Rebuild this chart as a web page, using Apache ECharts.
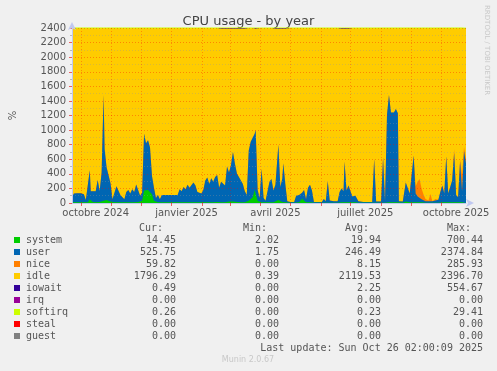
<!DOCTYPE html>
<html>
<head>
<meta charset="utf-8">
<script src="https://cdn.jsdelivr.net/npm/echarts@6/dist/echarts.min.js"></script>
<style>
html,body{margin:0;padding:0;background:#f0f0f0;}
#chart{width:497px;height:371px;}
</style>
</head>
<body>
<div id="chart"></div>
<script>
// Day index 0 = 22 Sep 2024, day 399 = 26 Oct 2025
const days = [0,2,5,9,12,14,16,18,19,21,
 24,26,28,30,32,33,35,37,39,41,
 43,45,47,49,51,53,55,57,59,61,
 63,65,67,69,71,73,75,77,79,81,
 83,85,87,89,91,93,100,107,109,111,
 113,115,117,119,121,123,125,127,129,131,
 133,135,137,139,141,143,145,147,149,151,
 153,155,157,159,161,163,165,167,169,171,
 173,175,177,179,181,183,185,186,188,190,
 192,194,196,198,200,202,204,206,209,211,
 213,214,216,218,221,225,227,230,233,235,
 237,239,241,243,245,249,253,255,257,259,
 261,265,269,271,273,275,276,278,280,282,
 284,287,290,295,301,304,306,308,313,315,
 317,319,321,323,326,328,330,331,335,338,
 340,342,344,346,348,350,352,354,356,358,
 361,363,365,368,371,373,375,377,379,381,
 383,385,387,389,391,393,395,397,399];

const system = [10,10,10,10,10,10,10,50,40,15,
 10,15,15,20,30,40,40,20,20,10,
 10,10,10,10,10,10,10,10,10,10,
 10,15,15,10,30,170,180,180,160,120,
 30,10,10,10,10,10,10,10,10,10,
 10,10,10,10,10,10,10,10,10,10,
 10,10,10,10,10,10,15,15,10,10,
 10,10,20,20,20,20,20,15,15,10,
 10,10,10,30,40,80,180,190,30,10,
 10,10,10,10,10,10,10,10,40,20,
 15,15,10,5,5,5,10,10,60,60,
 10,10,10,10,5,5,5,5,5,10,
 5,5,5,10,10,10,10,10,10,10,
 10,10,5,5,5,5,5,5,5,5,
 5,10,10,10,10,10,10,5,5,20,
 20,10,10,10,10,10,10,10,5,5,
 5,5,5,5,5,10,10,10,10,10,
 10,10,10,10,10,10,10,10,14.45];

const user = [70,120,125,125,110,30,40,400,120,160,
 150,300,150,400,1450,700,450,480,250,40,
 30,220,200,100,120,40,140,170,120,180,
 140,240,250,90,110,780,640,680,600,250,
 180,60,100,40,100,100,100,100,180,150,
 210,180,240,200,220,270,230,140,160,120,
 170,300,340,250,330,280,340,370,200,280,
 260,230,480,400,500,680,520,390,340,330,
 250,150,100,690,800,760,770,810,150,60,
 460,60,20,40,280,320,160,240,760,200,
 320,530,250,20,10,10,90,100,80,120,
 40,200,240,160,10,10,10,50,20,290,
 30,20,20,140,190,150,560,160,230,150,
 80,90,20,10,10,10,600,15,15,620,
 15,1200,1470,1230,1230,1280,1220,20,15,260,
 280,120,140,640,120,80,60,40,30,20,
 20,20,20,30,40,140,230,120,630,120,
 140,300,680,100,70,560,150,700,525.75];

const nice = [0,0,0,0,0,0,0,0,0,0,
 0,0,0,0,0,0,0,0,0,0,
 0,0,0,0,0,0,0,0,0,0,
 0,0,0,0,0,0,0,0,0,0,
 0,0,0,0,0,0,0,0,0,0,
 0,0,0,0,0,0,0,0,0,0,
 0,0,0,0,0,0,0,0,0,0,
 0,0,0,0,0,0,0,0,0,0,
 0,0,0,0,0,0,0,0,0,0,
 0,0,0,0,0,0,0,0,0,0,
 0,0,0,0,0,0,0,0,0,0,
 0,0,0,0,0,0,0,0,0,0,
 0,0,0,0,0,0,0,0,0,0,
 0,0,0,0,0,0,0,0,0,0,
 0,0,0,0,0,0,0,0,0,0,
 0,0,0,0,100,200,260,150,80,30,
 10,100,0,20,0,0,0,0,0,0,
 0,0,50,0,0,30,220,60,59.82];

const idle = [2320,2270,2265,2265,2280,2360,2350,1950,2240,2225,
 2240,2085,2235,1980,920,1660,1910,1900,2130,2350,
 2360,2170,2190,2290,2270,2350,2250,2220,2270,2210,
 2250,2145,2135,2300,2260,1450,1580,1540,1640,2030,
 2190,2330,2290,2350,2290,2290,2290,2290,2210,2240,
 2180,2210,2150,2190,2170,2120,2160,2250,2230,2270,
 2220,2090,2050,2140,2060,2110,2045,2015,2190,2095,
 2115,2145,1885,1965,1865,1685,1845,1980,2030,2045,
 2125,2225,2290,1680,1560,1560,1450,1385,2205,2330,
 1930,2330,2370,2350,2110,2070,2230,2135,1585,2165,
 2050,1840,2125,2375,2385,2385,2300,2290,2260,2220,
 2350,2190,2150,2230,2385,2385,2385,2345,2375,2100,
 2365,2375,2375,2235,2185,2225,1815,2215,2145,2240,
 2310,2300,2375,2385,2385,2385,1795,2380,2380,1775,
 2380,1190,920,1160,1160,1110,1170,2375,2380,2120,
 2100,2270,2250,1750,2170,2110,2070,2200,2285,2345,
 2365,2275,2375,2345,2355,2250,2160,2270,1760,2270,
 2250,2090,1660,2290,2320,1800,2020,1630,1796.29];

const iowait = [0,0,0,0,0,0,0,0,0,0,
 0,0,0,0,0,0,0,0,0,0,
 0,0,0,0,0,0,0,0,0,0,
 0,0,0,0,0,0,0,0,0,0,
 0,0,0,0,0,0,0,0,0,0,
 0,0,0,0,0,0,0,0,0,0,
 0,0,0,0,0,0,0,0,0,15,
 15,15,15,15,15,15,15,15,15,15,
 15,15,0,0,0,0,0,15,15,0,
 0,0,0,0,0,0,0,15,15,15,
 15,15,15,0,0,0,0,0,0,0,
 0,0,0,0,0,0,0,0,0,0,
 0,0,0,15,15,15,15,15,15,0,
 0,0,0,0,0,0,0,0,0,0,
 0,0,0,0,0,0,0,0,0,0,
 0,0,0,0,0,0,0,0,0,0,
 0,0,0,0,0,0,0,0,0,0,
 0,0,0,0,0,0,0,0,0.49];

const softirq = [0.3,0.3,0.3,0.3,0.3,0.3,0.3,0.3,0.3,0.3,
 0.3,0.3,0.3,0.3,0.3,0.3,0.3,0.3,0.3,0.3,
 0.3,0.3,0.3,0.3,0.3,0.3,0.3,0.3,0.3,0.3,
 0.3,0.3,0.3,0.3,0.3,0.3,0.3,0.3,0.3,0.3,
 0.3,0.3,0.3,0.3,0.3,0.3,0.3,0.3,0.3,0.3,
 0.2,0.2,0.2,0.2,0.2,0.2,0.2,0.2,0.2,0.2,
 0.2,0.2,0.2,0.2,0.2,0.2,0.2,0.2,0.2,0.2,
 0.2,0.2,0.2,0.2,0.2,0.2,0.2,0.2,0.2,0.2,
 0.2,0.2,0.2,0.2,0.2,0.2,0.2,0.2,0.2,0.2,
 0.2,0.2,0.2,0.2,0.2,0.2,0.2,0.2,0.2,0.2,
 0.2,0.2,0.2,0.2,0.2,0.2,0.2,0.2,0.2,0.2,
 0.2,0.2,0.2,0.2,0.2,0.2,0.2,0.2,0.2,0.2,
 0.2,0.2,0.2,0.2,0.2,0.2,0.2,0.2,0.2,0.2,
 0.2,0.2,0.2,0.2,0.2,0.2,0.2,0.2,0.2,0.2,
 0.3,0.3,0.3,0.3,0.3,0.3,0.3,0.3,0.3,0.3,
 0.3,0.3,0.3,0.3,0.3,0.3,0.3,0.3,0.3,0.3,
 0.3,0.3,0.3,0.3,0.3,0.3,0.3,0.3,0.3,0.3,
 0.3,0.3,0.3,0.3,0.3,0.3,0.3,0.3,0.26];

// Axis ticks / labels (day indices)
const yTicks = [0,200,400,600,800,1000,1200,1400,1600,1800,2000,2200,2400];
const monthStarts = [9,40,70,101,132,160,191,221,252,282,313,344,374];
const labelDays = [24,116,206,297,389];
const labelTexts = ['octobre 2024','janvier 2025','avril 2025','juillet 2025','octobre 2025'];

// Legend table
const legendNames = ['system','user','nice','idle','iowait','irq','softirq','steal','guest'];
const legendColors = ['#00CC00','#0066B3','#FF8000','#FFCC00','#330099','#990099','#CCFF00','#FF0000','#808080'];
const curVals = ['14.45','525.75','59.82','1796.29','0.49','0.00','0.26','0.00','0.00'];
const minVals = ['2.02','1.75','0.00','0.39','0.00','0.00','0.00','0.00','0.00'];
const avgVals = ['19.94','246.49','8.15','2119.53','2.25','0.00','0.23','0.00','0.00'];
const maxVals = ['700.44','2374.84','285.93','2396.70','554.67','0.00','29.41','0.00','0.00'];

const mono = '10px "DejaVu Sans Mono"';
const txtColor = '#555';

// stack (cumulative) in drawing order, bottom first
const layers = [
  ['system', system, '#00CC00'],
  ['user', user, '#0066B3'],
  ['nice', nice, '#FF8000'],
  ['idle', idle, '#FFCC00'],
  ['iowait', iowait, '#330099'],
  ['softirq', softirq, '#CCFF00']
];
const running = days.map(() => 0);
const series = layers.map((L, k) => {
  const vals = L[1];
  const data = days.map((d, i) => { running[i] += vals[i]; return [d, running[i]]; });
  const isTop = L[0] === 'softirq';
  const s = {
    type: 'line', name: L[0], data: data,
    symbol: 'none', showSymbol: false,
    lineStyle: isTop ? { width: 1, color: L[2] } : { width: 0 },
    itemStyle: { color: L[2] },
    clip: !isTop,
    animation: false, silent: true,
    // lower layers are painted above higher cumulative ones; the thin top layer is a line on top
    z: isTop ? 12 : 2 + (layers.length - k)
  };
  if (!isTop) s.areaStyle = { color: L[2], opacity: 1, origin: 'start' };
  return s;
});

const graphics = [];
function txt(x, y, s, align, extra) {
  graphics.push({ type: 'text', x: x, y: y, silent: true,
    style: Object.assign({ text: s, font: mono, fill: txtColor, align: align || 'left', verticalAlign: 'middle' }, extra || {}) });
}
txt(163, 228, 'Cur:', 'right');
txt(267, 228, 'Min:', 'right');
txt(369, 228, 'Avg:', 'right');
txt(471, 228, 'Max:', 'right');
legendNames.forEach((n, i) => {
  const y = 240 + i * 12;
  graphics.push({ type: 'rect', shape: { x: 14, y: y - 3, width: 6, height: 6 }, style: { fill: legendColors[i] }, silent: true });
  txt(26, y, n, 'left');
  txt(176, y, curVals[i], 'right');
  txt(279, y, minVals[i], 'right');
  txt(381, y, avgVals[i], 'right');
  txt(483, y, maxVals[i], 'right');
});
txt(483, 348, 'Last update: Sun Oct 26 02:00:09 2025', 'right');
graphics.push({ type: 'text', x: 248, y: 360, silent: true,
  style: { text: 'Munin 2.0.67', font: '8px "DejaVu Sans"', fill: '#c8c8c8', align: 'center', verticalAlign: 'middle' } });
graphics.push({ type: 'text', x: 487, y: 5, rotation: -Math.PI / 2, silent: true,
  style: { text: 'RRDTOOL / TOBI OETIKER', font: '7px "DejaVu Sans"', fill: '#c8c8c8', align: 'left', verticalAlign: 'middle' } });

const chart = echarts.init(document.getElementById('chart'), null, { renderer: 'canvas' });
chart.setOption({
  backgroundColor: '#f0f0f0',
  animation: false,
  title: {
    text: 'CPU usage - by year', left: 'center', top: 10,
    textStyle: { fontFamily: 'DejaVu Sans', fontSize: 13, fontWeight: 'normal', color: '#444' }
  },
  grid: { left: 67, right: 31, top: 28, bottom: 168, containLabel: false },
  xAxis: {
    type: 'value', min: 0, max: 399, z: 20,
    axisLine: { show: true, onZero: false, lineStyle: { color: '#c0c8f0', width: 1 }, symbol: ['none', 'arrow'], symbolSize: [6, 8], symbolOffset: [0, 8] },
    axisTick: { show: true, customValues: monthStarts, length: 3, lineStyle: { color: 'rgba(230,0,0,0.6)' } },
    axisLabel: {
      customValues: labelDays, margin: 5, hideOverlap: false,
      formatter: v => { const i = labelDays.indexOf(Math.round(v)); return i >= 0 ? labelTexts[i] : ''; },
      fontFamily: 'DejaVu Sans', fontSize: 10, color: txtColor
    },
    splitLine: { show: true, lineStyle: { color: 'rgba(255,0,0,0.3)', type: [1, 2], width: 1 } },
    minorTick: { show: false }
  },
  yAxis: {
    type: 'value', min: 0, max: 2400, interval: 200, z: 20,
    name: '%', nameLocation: 'middle', nameGap: 54, nameRotate: 90,
    nameTextStyle: { fontFamily: 'DejaVu Sans', fontSize: 10, color: txtColor },
    axisLine: { show: true, lineStyle: { color: '#c0c8f0', width: 1 }, symbol: ['none', 'arrow'], symbolSize: [6, 8], symbolOffset: [0, 6] },
    axisTick: { show: true, length: 3, lineStyle: { color: 'rgba(230,0,0,0.6)' } },
    minorTick: { show: true, splitNumber: 2, length: 2, lineStyle: { color: 'rgba(130,130,130,0.5)' } },
    axisLabel: { margin: 6, fontFamily: 'DejaVu Sans', fontSize: 10, color: txtColor,
      formatter: v => (yTicks.indexOf(v) >= 0 ? String(v) : '') },
    splitLine: { show: true, lineStyle: { color: 'rgba(255,0,0,0.35)', type: [1, 2], width: 1 } },
    minorSplitLine: { show: true, lineStyle: { color: 'rgba(150,150,150,0.35)', type: [1, 2], width: 1 } }
  },
  series: series,
  graphic: graphics
});
</script>
</body>
</html>
